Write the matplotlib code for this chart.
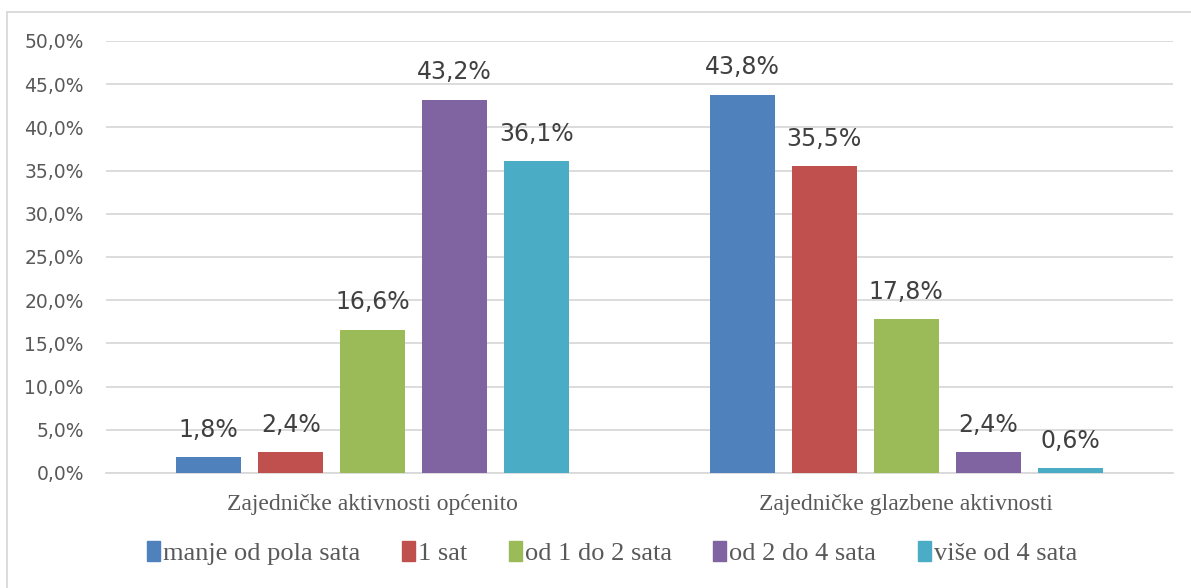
import numpy as np
import matplotlib
matplotlib.use("Agg")
import matplotlib.pyplot as plt
from matplotlib.lines import Line2D
from matplotlib.patches import Patch

categories = ["Zajedničke aktivnosti općenito", "Zajedničke glazbene aktivnosti"]
series = ["manje od pola sata", "1 sat", "od 1 do 2 sata", "od 2 do 4 sata", "više od 4 sata"]
values = [
    [1.8, 43.8],
    [2.4, 35.5],
    [16.6, 17.8],
    [43.2, 2.4],
    [36.1, 0.6],
]
colors = ["#4F81BD", "#C0504D", "#9BBB59", "#8064A2", "#4BACC6"]
yticks = np.arange(0, 55, 5)

TXT = "#595959"
fig = plt.figure(figsize=(11.91, 5.88), dpi=100)
ax = fig.add_axes([106 / 1191, 1 - 473 / 588, (1173 - 106) / 1191, (473 - 41) / 588])

# outer chart frame: only top and left edges are inside the crop
fx, fy = 6.5 / 1191, 1 - 11.5 / 588
fig.add_artist(Line2D([fx, 1.01], [fy, fy], transform=fig.transFigure, color="#D9D9D9", lw=1.3))
fig.add_artist(Line2D([fx, fx], [-0.01, fy], transform=fig.transFigure, color="#D9D9D9", lw=1.3))

x = np.arange(len(categories))
width = 0.122
pitch = 0.1537
for i, (name, vals) in enumerate(zip(series, values)):
    pos = x + (i - 2) * pitch
    bars = ax.bar(pos, vals, width, color=colors[i], label=name, zorder=3)
    for b, v in zip(bars, vals):
        ax.annotate(f"{v:.1f}%".replace(".", ","), (b.get_x() + b.get_width() / 2, v),
                    xytext=(0, 11), textcoords="offset points", ha="center", va="bottom",
                    fontsize=17, color="#404040", family="DejaVu Sans")

ax.set_xlim(-0.5, 1.5)
ax.set_ylim(0, 50)
ax.set_yticks(yticks)
ax.set_yticklabels([f"{t:.1f}%".replace(".", ",") for t in yticks],
                   fontsize=13.5, color=TXT, family="DejaVu Sans")
ax.yaxis.grid(True, color="#D9D9D9", lw=1.3, zorder=0)
ax.set_xticks(x)
ax.set_xticklabels(categories, fontsize=17, color=TXT, family="Liberation Serif")
ax.tick_params(axis="y", length=0, pad=16)
ax.tick_params(axis="x", length=0, pad=15)
for s in ["top", "right", "left"]:
    ax.spines[s].set_visible(False)
ax.spines["bottom"].set_color("#D9D9D9")
ax.spines["bottom"].set_linewidth(1.3)

handles = [Patch(color=c, label=s) for c, s in zip(colors, series)]
fig.legend(handles=handles, loc="center", bbox_to_anchor=(612 / 1191, 1 - 553 / 588),
           ncol=5, frameon=False, handlelength=0.5, handleheight=0.8, handletextpad=0.1,
           columnspacing=1.58, prop={"family": "Liberation Serif", "size": 19},
           labelcolor=TXT)

fig.savefig("out.png", dpi=100)
